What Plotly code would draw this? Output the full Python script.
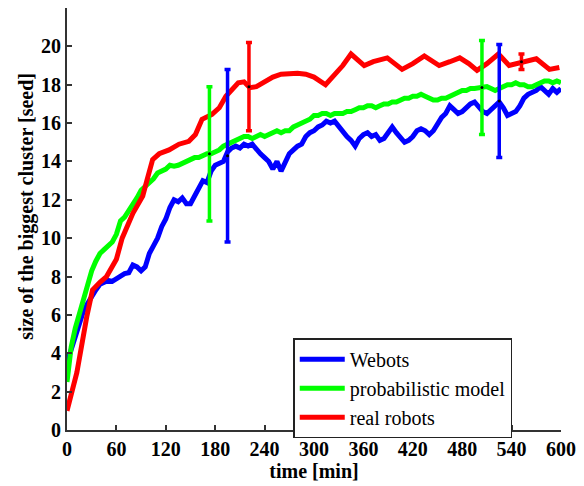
import plotly.graph_objects as go

# ---- data ----
webots_t = list(range(0, 601, 5))
webots_y = [3.5, 4.2, 4.8, 5.4, 6.2, 6.6, 7.0, 7.3, 7.6, 7.7, 7.8, 7.75, 7.9, 8.0, 8.15, 8.2,
            8.6, 8.5, 8.3, 8.5, 9.2, 9.6, 10.0, 10.6, 11.0, 11.6, 12.0, 11.9, 12.1, 11.8, 11.8,
            12.2, 12.6, 13.0, 12.9, 13.5, 13.8, 13.9, 14.0, 14.5, 14.7, 14.8, 14.7, 14.9, 14.8,
            14.9, 14.6, 14.4, 14.2, 14.0, 13.6, 14.0, 13.5, 13.9, 14.4, 14.6, 14.8, 14.9, 15.3,
            15.5, 15.6, 15.8, 15.9, 16.1, 16.0, 16.1, 15.8, 15.6, 15.3, 15.1, 14.8, 15.2, 15.4,
            15.5, 15.3, 15.4, 15.1, 15.2, 15.5, 15.8, 15.5, 15.2, 15.0, 15.1, 15.3, 15.6, 15.7,
            15.6, 15.4, 15.6, 16.0, 16.3, 16.5, 16.9, 16.7, 16.5, 16.6, 16.8, 17.0, 17.1, 16.8,
            16.6, 16.5, 16.7, 16.9, 17.1, 16.8, 16.4, 16.5, 16.6, 16.9, 17.3, 17.5, 17.6, 17.7,
            17.9, 17.7, 17.5, 17.8, 17.6, 17.8]

model_t = list(range(0, 601, 5))
model_y = [2.5, 4.3, 5.3, 6.1, 6.8, 7.6, 8.3, 8.8, 9.2, 9.4, 9.6, 9.8, 10.2, 10.9, 11.1, 11.4,
           11.8, 12.1, 12.5, 12.7, 12.9, 13.1, 13.4, 13.5, 13.6, 13.8, 13.75, 13.8, 13.9, 14.0,
           14.1, 14.2, 14.2, 14.3, 14.4, 14.4, 14.5, 14.6, 14.8, 14.9, 15.0, 15.1, 15.2, 15.3,
           15.3, 15.2, 15.3, 15.4, 15.3, 15.4, 15.5, 15.6, 15.5, 15.6, 15.6, 15.8, 15.9, 16.0,
           16.1, 16.2, 16.4, 16.4, 16.5, 16.5, 16.4, 16.5, 16.5, 16.5, 16.6, 16.6, 16.7, 16.8,
           16.8, 16.9, 16.9, 16.8, 16.9, 17.0, 17.0, 17.1, 17.1, 17.2, 17.3, 17.3, 17.4, 17.4,
           17.5, 17.4, 17.3, 17.2, 17.2, 17.3, 17.3, 17.4, 17.5, 17.6, 17.7, 17.7, 17.8, 17.8,
           17.85, 17.9, 17.9, 17.8, 17.7, 17.8, 17.9, 18.0, 18.0, 18.1, 18.0, 18.0, 17.9, 17.9,
           18.0, 18.1, 18.2, 18.2, 18.1, 18.2, 18.1]

real_t = [0, 12, 24, 31, 40, 48, 60, 67, 80, 92, 97, 104, 112, 124, 136, 148, 156, 164, 176,
          185, 193, 208, 215, 222, 230, 241, 250, 260, 270, 280, 290, 300, 314, 325, 335, 345,
          352, 361, 372, 389, 407, 420, 434, 452, 465, 477, 488, 498, 510, 524, 537, 546, 554,
          570, 586, 598]
real_y = [1.0, 3.0, 5.9, 7.3, 7.7, 8.0, 8.9, 10.0, 11.3, 12.2, 13.0, 14.1, 14.4, 14.6, 14.9,
          15.05, 15.4, 16.2, 16.45, 16.8, 17.4, 18.1, 18.15, 17.85, 17.9, 18.2, 18.4, 18.55,
          18.6, 18.6, 18.55, 18.4, 18.0, 18.5, 19.0, 19.6, 19.3, 19.0, 19.2, 19.4, 18.8, 19.1,
          19.5, 19.0, 19.2, 19.4, 19.1, 18.75, 19.1, 19.6, 19.0, 19.1, 19.2, 19.35, 18.8, 18.9]

# error bars (mean, half-width)
webots_err_t = [195, 525]
webots_err_y = [14.3, 17.15]
webots_err = [4.5, 2.95]
model_err_t = [173, 504]
model_err_y = [14.4, 17.85]
model_err = [3.5, 2.45]
real_err_t = [221, 552]
real_err_y = [17.9, 19.2]
real_err = [2.3, 0.4]

x_ticks = list(range(0, 601, 60))
y_ticks = list(range(0, 21, 2))

BLUE = "#0000ff"
GREEN = "#00ff00"
RED = "#ff0000"
SERIF = "Liberation Serif, Times New Roman, serif"

fig = go.Figure()
series = [
    ("Webots", webots_t, webots_y, BLUE),
    ("probabilistic model", model_t, model_y, GREEN),
    ("real robots", real_t, real_y, RED),
]
for name, t, y, c in series:
    fig.add_trace(go.Scatter(x=t, y=y, mode="lines", name=name,
                             line=dict(color=c, width=5)))

for t, y, e, c in [(model_err_t, model_err_y, model_err, GREEN),
                   (webots_err_t, webots_err_y, webots_err, BLUE),
                   (real_err_t, real_err_y, real_err, RED)]:
    fig.add_trace(go.Scatter(x=t, y=y, mode="markers", showlegend=False,
                             marker=dict(color="black", size=3),
                             error_y=dict(type="data", array=e, visible=True,
                                          color=c, thickness=3.5, width=3)))

axis_font = dict(family=SERIF, size=20, color="black", weight="bold")
fig.add_annotation(text="size of the biggest cluster [seed]", textangle=-90,
                   xref="paper", yref="paper", x=-0.082, y=0.53,
                   xanchor="center", yanchor="middle", showarrow=False,
                   font=dict(family=SERIF, size=20, color="black", weight="bold"))

fig.update_layout(
    width=584, height=486,
    margin=dict(l=67, r=19, t=8, b=55),
    paper_bgcolor="white", plot_bgcolor="white",
    font=dict(family=SERIF),
    showlegend=True,
    legend=dict(x=0.458, y=0.2175, xanchor="left", yanchor="top",
                bordercolor="#222", borderwidth=1.5, bgcolor="white",
                font=dict(family=SERIF, size=20, color="black"),
                tracegroupgap=0, itemwidth=45),
    xaxis=dict(range=[0, 600], tickvals=x_ticks, ticks="inside", ticklen=5,
               tickcolor="#333", tickwidth=1.5, showline=True, linecolor="#333",
               linewidth=2, showgrid=False, zeroline=False, tickfont=axis_font,
               title=dict(text="time [min]", font=axis_font, standoff=4)),
    yaxis=dict(range=[0, 22], tickvals=y_ticks, ticks="inside", ticklen=5,
               tickcolor="#333", tickwidth=1.5, showline=True, linecolor="#333",
               linewidth=2, showgrid=False, zeroline=False, tickfont=axis_font),
)

fig.write_html("out.html")
